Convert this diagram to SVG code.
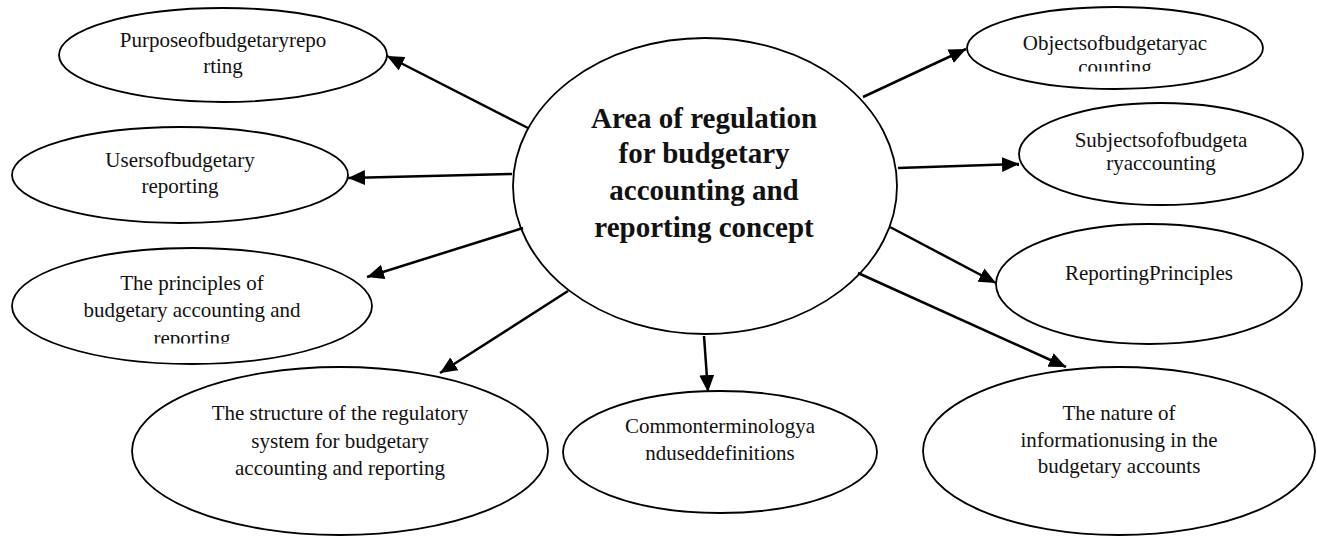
<svg xmlns="http://www.w3.org/2000/svg" width="1317" height="536" viewBox="0 0 1317 536">
<style>
.node ellipse{fill:#fff;stroke:#000;stroke-width:1.8}
.node text{font-family:"Liberation Serif","Times New Roman",serif;font-size:21px;fill:#111;text-anchor:middle}
#center text{font-size:29px;font-weight:bold}
.conn line{stroke:#000;stroke-width:2.5;marker-end:url(#ah)}
</style>
<defs>
<marker id="ah" markerUnits="userSpaceOnUse" markerWidth="19" markerHeight="16" refX="17" refY="7.5" orient="auto">
<path d="M0,0 L17,7.5 L0,15 z" fill="#000"/>
</marker>
<clipPath id="clipPrin"><rect x="0" y="0" width="1317" height="343.5"/></clipPath>
<clipPath id="clipObj"><rect x="0" y="0" width="1317" height="71.5"/></clipPath>
</defs>
<rect width="1317" height="536" fill="#fff"/>
<g id="center" class="node">
<ellipse cx="705" cy="186" rx="192" ry="148"/>
<text x="704" y="128">Area of regulation</text>
<text x="704" y="163">for budgetary</text>
<text x="704" y="200">accounting and</text>
<text x="704" y="237">reporting concept</text>
</g>
<g id="purpose" class="node">
<ellipse cx="223" cy="55" rx="164" ry="47"/>
<text x="223" y="47">Purposeofbudgetaryrepo</text>
<text x="223" y="73">rting</text>
</g>
<g id="users" class="node">
<ellipse cx="180" cy="175" rx="168" ry="48"/>
<text x="180" y="167">Usersofbudgetary</text>
<text x="180" y="193">reporting</text>
</g>
<g id="principles" class="node">
<ellipse cx="192" cy="306" rx="180" ry="58"/>
<text x="192" y="290">The principles of</text>
<text x="192" y="317">budgetary accounting and</text>
<text x="192" y="345" clip-path="url(#clipPrin)">reporting</text>
</g>
<g id="structure" class="node">
<ellipse cx="340" cy="451" rx="208" ry="84"/>
<text x="340" y="420">The structure of the regulatory</text>
<text x="340" y="448">system for budgetary</text>
<text x="340" y="475">accounting and reporting</text>
</g>
<g id="common" class="node">
<ellipse cx="720" cy="452" rx="157" ry="61"/>
<text x="720" y="433">Commonterminologya</text>
<text x="720" y="460">nduseddefinitions</text>
</g>
<g id="nature" class="node">
<ellipse cx="1119" cy="451" rx="196" ry="84"/>
<text x="1119" y="420">The nature of</text>
<text x="1119" y="447">informationusing in the</text>
<text x="1119" y="473">budgetary accounts</text>
</g>
<g id="objects" class="node">
<ellipse cx="1115" cy="48" rx="148" ry="41"/>
<text x="1115" y="50">Objectsofbudgetaryac</text>
<text x="1115" y="74" clip-path="url(#clipObj)">counting</text>
</g>
<g id="subjects" class="node">
<ellipse cx="1161" cy="154" rx="142" ry="51"/>
<text x="1161" y="147">Subjectsofofbudgeta</text>
<text x="1161" y="170">ryaccounting</text>
</g>
<g id="reporting" class="node">
<ellipse cx="1149" cy="284" rx="153" ry="60"/>
<text x="1149" y="280">ReportingPrinciples</text>
</g>
<g id="connectors" class="conn">
<line x1="528" y1="128" x2="387" y2="56"/>
<line x1="512" y1="174" x2="348" y2="178"/>
<line x1="523" y1="228" x2="367" y2="277"/>
<line x1="568" y1="291" x2="440" y2="373"/>
<line x1="704" y1="336" x2="708" y2="392"/>
<line x1="858" y1="273" x2="1066" y2="367"/>
<line x1="890" y1="227" x2="996" y2="283"/>
<line x1="898" y1="168" x2="1019" y2="164"/>
<line x1="863" y1="97" x2="966" y2="49"/>
</g>
</svg>
